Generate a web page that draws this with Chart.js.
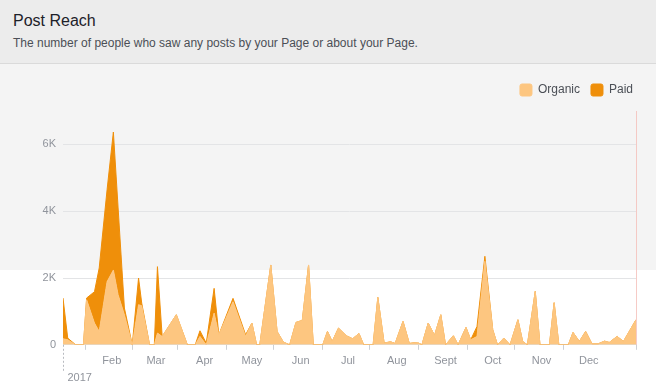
<!DOCTYPE html>
<html>
<head>
<meta charset="utf-8">
<script src="https://cdn.jsdelivr.net/npm/chart.js@4.4.1/dist/chart.umd.min.js"></script>
<style>
  body {
    margin: 0;
    width: 656px;
    height: 388px;
    overflow: hidden;
    position: relative;
    font-family: "Liberation Sans", Arial, sans-serif;
    background: linear-gradient(#f4f4f4 0, #f4f4f4 270px, #fff 270px);
  }
  .head {
    height: 64px;
    background: #ececec;
    border-bottom: 1px solid #dadada;
    box-sizing: border-box;
    padding: 11px 13px 0;
  }
  .head h1 { margin: 0; font-size: 16px; font-weight: normal; color: #1d2129; line-height: 20px; }
  .head p { margin: 4px 0 0; font-size: 12px; color: #4b4f56; line-height: 16px; }
  #chart { position: absolute; left: 0; top: 64px; }
</style>
</head>
<body>
<div class="head">
  <h1>Post Reach</h1>
  <p>The number of people who saw any posts by your Page or about your Page.</p>
</div>
<canvas id="chart" width="656" height="324"></canvas>
<script>
// day of year (0 = Jan 1 2017)
var days    = [0, 3, 8, 13, 15, 20, 23, 28, 32, 35, 39, 44, 48, 50, 55, 58, 60, 63, 72, 79,
               84, 87, 91, 96, 99, 108, 116, 120, 123, 125, 132, 136, 140, 144, 148, 152, 156, 159, 165, 168,
               171, 175, 180, 184, 188, 191, 197, 200, 204, 208, 211, 216, 220, 223, 226, 228, 232, 236, 240, 243,
               248, 251, 256, 259, 263, 268, 273, 276, 280, 284, 289, 292, 295, 300, 303, 309, 312, 315, 321, 324,
               328, 332, 336, 340, 344, 347, 352, 356, 364];
var organic = [180, 150, 0, 0, 1350, 650, 400, 1890, 2240, 1500, 900, 0, 1200, 1170, 0, 0, 350, 250, 900, 0,
               0, 250, 0, 950, 300, 1290, 250, 650, 0, 0, 2390, 400, 80, 0, 670, 730, 2390, 0, 0, 400,
               100, 500, 270, 180, 340, 0, 0, 1420, 50, 90, 40, 700, 40, 60, 50, 0, 650, 280, 900, 0,
               270, 0, 520, 150, 250, 2500, 450, 0, 200, 0, 750, 100, 0, 1600, 0, 0, 1260, 0, 0, 370,
               100, 400, 30, 30, 110, 70, 250, 100, 750];
var paid    = [1220, 50, 0, 0, 50, 940, 1900, 2750, 4130, 2600, 200, 0, 800, 80, 0, 0, 1990, 0, 0, 0,
               0, 170, 50, 740, 0, 100, 50, 0, 0, 0, 0, 0, 0, 0, 0, 0, 0, 0, 0, 0,
               0, 0, 0, 0, 0, 0, 0, 0, 0, 0, 0, 0, 0, 0, 0, 0, 0, 0, 0, 0,
               0, 0, 0, 0, 300, 150, 0, 0, 0, 0, 0, 0, 0, 0, 0, 0, 0, 0, 0, 0,
               0, 0, 0, 0, 0, 0, 0, 0, 0];

var monthNames  = ['', 'Feb', 'Mar', 'Apr', 'May', 'Jun', 'Jul', 'Aug', 'Sept', 'Oct', 'Nov', 'Dec'];
var monthStarts = [0, 31, 59, 90, 120, 151, 181, 212, 243, 273, 304, 334];
var tickMarks   = [14, 44, 73, 104, 134, 165, 195, 226, 257, 287, 318, 364];
var yTicks      = [0, 2000, 4000, 6000];
var yearLabel   = '2017';

function points(vals) {
  return days.map(function (d, i) { return { x: d, y: vals[i] }; });
}

// legend sits a bit further right and leaves more room under it
var legendNudge = {
  id: 'legendNudge',
  beforeInit: function (chart) {
    var fit = chart.legend.fit;
    chart.legend.fit = function () {
      fit.call(this);
      this.height += 5;
    };
  },
  afterLayout: function (chart) {
    chart.legend.left += 8;
    chart.legend.right += 8;
  }
};

// dashed year marker, year text and the pink "today" line
var extras = {
  id: 'extras',
  beforeDatasetsDraw: function (chart) {
    var ctx = chart.ctx, area = chart.chartArea, x = chart.scales.x;
    var xe = Math.round(x.getPixelForValue(364)) + 0.5;
    ctx.save();
    ctx.strokeStyle = 'rgba(244,190,184,0.8)';
    ctx.lineWidth = 1;
    ctx.beginPath();
    ctx.moveTo(xe, area.top);
    ctx.lineTo(xe, area.bottom);
    ctx.stroke();
    ctx.restore();
  },
  afterDraw: function (chart) {
    var ctx = chart.ctx, area = chart.chartArea, x = chart.scales.x;
    var x0 = Math.round(x.getPixelForValue(0)) + 0.5;
    ctx.save();
    ctx.strokeStyle = '#b8bbc0';
    ctx.lineWidth = 1;
    ctx.setLineDash([2, 2]);
    ctx.beginPath();
    ctx.moveTo(x0, area.bottom);
    ctx.lineTo(x0, area.bottom + 28);
    ctx.stroke();
    ctx.setLineDash([]);
    ctx.fillStyle = '#90949c';
    ctx.font = '11px "Liberation Sans", Arial, sans-serif';
    ctx.textBaseline = 'middle';
    ctx.fillText(yearLabel, x0 + 4, area.bottom + 33);
    ctx.restore();
  }
};

var ctx = document.getElementById('chart').getContext('2d');
var myChart = new Chart(ctx, {
  type: 'line',
  data: {
    datasets: [{
      label: 'Organic',
      data: points(organic),
      backgroundColor: '#fdc680',
      borderColor: '#fdc680',
      borderWidth: 1,
      fill: 'origin'
    }, {
      label: 'Paid',
      data: points(paid),
      backgroundColor: '#ef8f0a',
      borderColor: '#ef8f0a',
      borderWidth: 1,
      fill: '-1'
    }]
  },
  options: {
    responsive: false,
    animation: false,
    devicePixelRatio: 1,
    elements: { point: { radius: 0 }, line: { tension: 0 } },
    layout: { padding: { top: 9, right: 20, bottom: 15, left: 0 } },
    plugins: {
      legend: {
        position: 'top',
        align: 'end',
        labels: {
          boxWidth: 12,
          boxHeight: 12,
          useBorderRadius: true,
          borderRadius: 2,
          padding: 11,
          color: '#4b4f56',
          font: { family: '"Liberation Sans", Arial, sans-serif', size: 12 }
        }
      },
      tooltip: { enabled: false }
    },
    scales: {
      x: {
        type: 'linear',
        min: 0,
        max: 364,
        afterBuildTicks: function (scale) {
          scale.ticks = monthStarts.concat(tickMarks)
            .sort(function (a, b) { return a - b; })
            .map(function (v) { return { value: v }; });
        },
        grid: {
          drawOnChartArea: false,
          tickLength: 5,
          color: function (c) {
            return c.tick && tickMarks.indexOf(c.tick.value) >= 0 ? '#ccd0d5' : 'rgba(0,0,0,0)';
          }
        },
        border: { color: '#dddfe2' },
        ticks: {
          autoSkip: false,
          maxRotation: 0,
          minRotation: 0,
          padding: 5,
          color: '#90949c',
          font: { family: '"Liberation Sans", Arial, sans-serif', size: 11 },
          callback: function (v) {
            var i = monthStarts.indexOf(v);
            return i >= 0 ? monthNames[i] : '';
          }
        }
      },
      y: {
        stacked: true,
        min: 0,
        max: 7000,
        afterBuildTicks: function (scale) {
          scale.ticks = yTicks.map(function (v) { return { value: v }; });
        },
        afterFit: function (scale) { scale.width = 63; },
        grid: { color: '#e3e4e6', drawTicks: false },
        border: { display: false },
        ticks: {
          padding: 7,
          color: '#90949c',
          font: { family: '"Liberation Sans", Arial, sans-serif', size: 11 },
          callback: function (v) { return v === 0 ? '0' : (v / 1000) + 'K'; }
        }
      }
    }
  },
  plugins: [legendNudge, extras]
});
</script>
</body>
</html>
